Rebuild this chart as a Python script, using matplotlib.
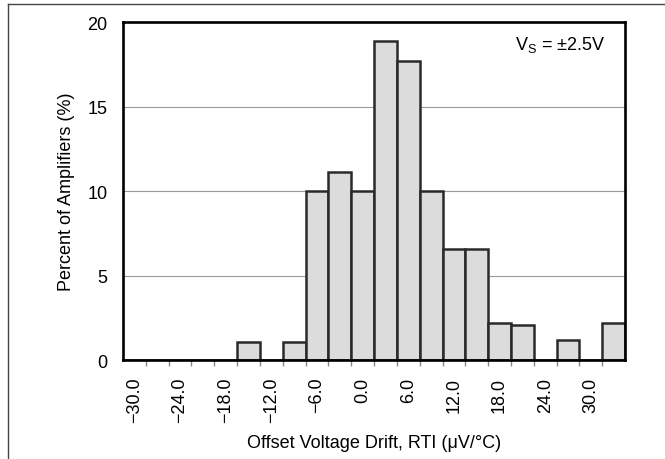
import matplotlib
matplotlib.use("Agg")
from matplotlib import pyplot as plt
from matplotlib.lines import Line2D

plt.rcParams['font.family'] = ['Liberation Sans', 'DejaVu Sans']
plt.rcParams['mathtext.fontset'] = 'custom'
plt.rcParams['mathtext.rm'] = 'Liberation Sans'

# bin centres (uV/C) and percent of amplifiers in each bin
drift = [-30.0, -27.0, -24.0, -21.0, -18.0, -15.0, -12.0, -9.0, -6.0, -3.0, 0.0,
         3.0, 6.0, 9.0, 12.0, 15.0, 18.0, 21.0, 24.0, 27.0, 30.0, 33.0]
percent = [0, 0, 0, 0, 0, 1.1, 0, 1.1, 10.0, 11.1, 10.0,
           18.9, 17.7, 10.0, 6.6, 6.6, 2.2, 2.1, 0, 1.2, 0, 2.2]
tick_vals = [-30.0, -24.0, -18.0, -12.0, -6.0, 0.0, 6.0, 12.0, 18.0, 24.0, 30.0]
tick_text = ["\u221230.0", "\u221224.0", "\u221218.0", "\u221212.0", "\u22126.0", "0.0",
             "6.0", "12.0", "18.0", "24.0", "30.0"]
bin_w = 3.0

fig = plt.figure(figsize=(6.65, 4.60), dpi=100)
ax = fig.add_axes([0.185, 0.215, 0.755, 0.735])

ax.bar(drift, percent, width=bin_w, color="#dcdcdc", edgecolor="#2a2a2a",
       linewidth=1.8, zorder=3)

ax.set_xlim(drift[0] - bin_w / 2, drift[-1] + bin_w / 2)
ax.set_ylim(0, 20)
ax.set_yticks([0, 5, 10, 15, 20])
ax.yaxis.grid(True, color="#999999", linewidth=0.8, zorder=0)
ax.set_axisbelow(True)

ax.set_xticks(tick_vals)
ax.set_xticklabels(tick_text, rotation=90)
edges = [d - bin_w / 2 for d in drift[1:]]
ax.set_xticks(edges, minor=True)
ax.tick_params(axis="x", which="major", length=0, pad=12, labelsize=13)
ax.tick_params(axis="x", which="minor", length=4, width=1, color="#888888")
ax.tick_params(axis="y", length=0, pad=11, labelsize=13)

for s in ax.spines.values():
    s.set_linewidth(1.9)
    s.set_color("black")
    s.set_zorder(4)

ax.set_ylabel("Percent of Amplifiers (%)", fontsize=13, labelpad=9)
ax.set_xlabel("Offset Voltage Drift, RTI (\u03bcV/\u00b0C)", fontsize=13, labelpad=8)

ax.text(0.96, 0.935, r"$\mathregular{V_S}$ = " + "\u00b12.5V", transform=ax.transAxes,
        ha="right", va="center", fontsize=13)

# frame lines around the page
fig.add_artist(Line2D([8 / 665, 1], [1 - 5 / 460, 1 - 5 / 460], color="#444444", lw=1))
fig.add_artist(Line2D([8 / 665, 8 / 665], [0, 1 - 5 / 460], color="#444444", lw=1))

fig.savefig("out.png", dpi=100)
